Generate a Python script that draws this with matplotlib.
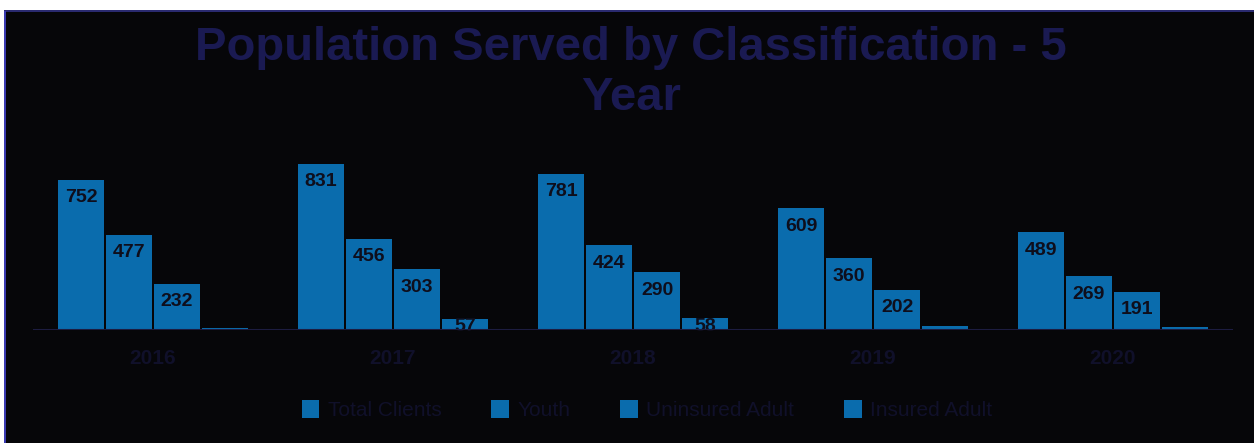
import matplotlib
matplotlib.use("Agg")
import matplotlib.pyplot as plt
from matplotlib.patches import Rectangle
import numpy as np

years = ["2016", "2017", "2018", "2019", "2020"]
series_names = ["Total Clients", "Youth", "Uninsured Adult", "Insured Adult"]
total_clients = [752, 831, 781, 609, 489]
youth = [477, 456, 424, 360, 269]
uninsured_adult = [232, 303, 290, 202, 191]
insured_adult = [10, 57, 58, 20, 14]

series = [total_clients, youth, uninsured_adult, insured_adult]

bg = "#060609"
bar_color = "#0a6cad"
title_color = "#1a1a52"
text_color = "#10102a"

plt.rcParams["font.family"] = ["Liberation Sans", "DejaVu Sans"]

fig = plt.figure(figsize=(12.54, 4.43), dpi=100, facecolor=bg)

# white margins with a thin blue rule, like a framed slide
fig.patches.append(Rectangle((0, 0.977), 1, 0.023, transform=fig.transFigure,
                             facecolor="white", edgecolor="none", zorder=0))
fig.patches.append(Rectangle((0, 0.972), 1, 0.006, transform=fig.transFigure,
                             facecolor="#2a2a70", edgecolor="none", zorder=0))
fig.patches.append(Rectangle((0, 0), 0.0035, 1, transform=fig.transFigure,
                             facecolor="white", edgecolor="none", zorder=0))
fig.patches.append(Rectangle((0.0035, 0), 0.0016, 0.975, transform=fig.transFigure,
                             facecolor="#3a3ab0", edgecolor="none", zorder=0))

ax = fig.add_axes([33 / 1254, 1 - 330 / 443, 1200 / 1254, 180 / 443])
ax.set_facecolor(bg)

x = np.arange(len(years))
w = 0.2
for i, vals in enumerate(series):
    pos = x - 0.3 + i * w
    bars = ax.bar(pos, vals, width=w * 0.96, color=bar_color, label=series_names[i],
                  zorder=2)
    for b, v in zip(bars, vals):
        if v >= 50:
            off = -13 if v >= 100 else -6
            ax.annotate(f"{v}", (b.get_x() + b.get_width() / 2, v),
                        xytext=(0, off), textcoords="offset points",
                        ha="center", va="center", fontsize=14, fontweight="bold",
                        color="#0e0e1c", zorder=3, annotation_clip=False)

ax.set_xlim(-0.5, 4.5)
ax.set_ylim(0, 900)
ax.axhline(0, color="#1c1c40", lw=1.5, zorder=4)
for s in ax.spines.values():
    s.set_visible(False)
ax.set_yticks([])
ax.set_xticks(x)
ax.set_xticklabels(years, fontsize=15, fontweight="bold", color=text_color)
ax.tick_params(axis="x", length=0, pad=14)

fig.text(0.503, 0.835, "Population Served by Classification - 5\nYear",
         ha="center", va="center", fontsize=34, fontweight="bold",
         color=title_color, linespacing=1.2)

leg = fig.legend(loc="center", bbox_to_anchor=(0.516, 0.075), ncol=4,
                 frameon=False, fontsize=15, handlelength=0.85, handleheight=1.0,
                 columnspacing=2.4, handletextpad=0.4)
for t in leg.get_texts():
    t.set_color(text_color)

fig.savefig("out.png", dpi=100, facecolor=bg)
